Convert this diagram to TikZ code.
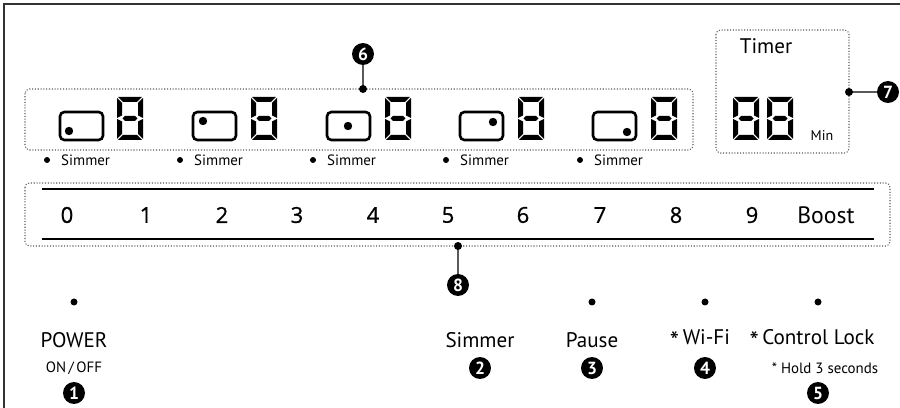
\documentclass[tikz,border=0pt]{standalone}
\usepackage{fontspec}
\setmainfont{PT Sans}
\newfontfamily\numfont{Open Sans}[FakeBold=0.8]
\usetikzlibrary{calc}
\definecolor{framegray}{gray}{0.2}
\definecolor{dotgray}{gray}{0.35}
\newcommand{\bigstar}{{\fontsize{15}{15}\selectfont\raisebox{-0.2em}{*}}}
\tikzset{
	marker/.style={circle, fill=black, text=white, inner sep=0pt, minimum size=12.5pt, font=\bfseries\fontsize{10}{10}\selectfont},
	dotbox/.style={draw=dotgray, densely dotted, line width=0.6pt, rounded corners=2.5pt},
	lead/.style={draw=dotgray, line width=0.6pt},
	small/.style={font=\fontsize{8.5}{8.5}\selectfont},
	label/.style={font=\fontsize{12}{12}\selectfont},
	level/.style={font=\numfont\fontsize{12.5}{12.5}\selectfont}
}
\newcommand{\segdigit}[2]{
	\begin{scope}[shift={(#1,#2)}]
	\fill (1,0) -- (25,0) -- (20,5) -- (6,5) -- cycle;
	\fill (1,43) -- (25,43) -- (20,38) -- (6,38) -- cycle;
	\fill (5.5,21.5) -- (8,19) -- (18,19) -- (20.5,21.5) -- (18,24) -- (8,24) -- cycle;
	\fill (0,1) -- (5,6) -- (5,18.5) -- (0,21) -- cycle;
	\fill (0,22) -- (5,24.5) -- (5,37) -- (0,42) -- cycle;
	\fill (26,1) -- (21,6) -- (21,18.5) -- (26,21) -- cycle;
	\fill (26,22) -- (21,24.5) -- (21,37) -- (26,42) -- cycle;
	\end{scope}
}
\newcommand{\burner}[4]{
	\begin{scope}[shift={(#1,#2)}]
	\draw[line width=1.5pt, rounded corners=2.5pt] (0,0) rectangle (43,28);
	\fill (#3,#4) circle (4.2);
	\end{scope}
}

\begin{document}
\begin{tikzpicture}[x=0.02cm,y=-0.02cm]
	\useasboundingbox (0,0) rectangle (900,408);
	% frame
	\draw[framegray, line width=1.1pt] (900,4) -- (4,4) -- (4,408);

	% cooking zones
	\draw[dotbox] (25,89) rectangle (693,150);
	\burner{60}{112}{9}{19}
	\burner{193}{112}{10}{9}
	\burner{327}{112}{21}{14}
	\burner{460}{112}{33}{10}
	\burner{593}{112}{34}{20}
	\segdigit{117}{97}
	\segdigit{251}{97}
	\segdigit{385}{97}
	\segdigit{518}{97}
	\segdigit{651}{97}

	\fill (47,160) circle (3);
	\fill (180,160) circle (3);
	\fill (313,160) circle (3);
	\fill (446,160) circle (3);
	\fill (580,160) circle (3);
	\node[small, anchor=west] (sim1) at (55,160) {Simmer};
	\node[small, anchor=west] (sim2) at (188,160) {Simmer};
	\node[small, anchor=west] (sim3) at (321,160) {Simmer};
	\node[small, anchor=west] (sim4) at (454,160) {Simmer};
	\node[small, anchor=west] (sim5) at (588,160) {Simmer};

	% timer
	\draw[dotbox] (716,30) rectangle (849,153);
	\node[label] (timer) at (766,46) {Timer};
	\segdigit{733}{97}
	\segdigit{767}{97}
	\node[font=\fontsize{8}{8}\selectfont] (min) at (822,136) {Min};

	% slider
	\draw[dotbox] (25,183) rectangle (890,246);
	\draw[line width=1.6pt] (42,189) -- (874,189);
	\draw[line width=1.6pt] (42,239) -- (874,239);
	\node[level] (l0) at (67,215) {0};
	\node[level] (l1) at (146,215) {1};
	\node[level] (l2) at (222,215) {2};
	\node[level] (l3) at (297,215) {3};
	\node[level] (l4) at (373,215) {4};
	\node[level] (l5) at (448,215) {5};
	\node[level] (l6) at (523,215) {6};
	\node[level] (l7) at (600,215) {7};
	\node[level] (l8) at (676,215) {8};
	\node[level] (l9) at (752,215) {9};
	\node[font=\fontsize{13.5}{13.5}\selectfont] (boost) at (826,215) {Boost};

	% keys
	\fill (74,302) circle (3.5);
	\fill (592,302) circle (3.5);
	\fill (705,302) circle (3.5);
	\fill (818,302) circle (3.5);
	\node[label] (power) at (74,340) {POWER};
	\node[small] (onoff) at (74,368) {ON\,/\,OFF};
	\node[label] (simmer) at (480,340) {Simmer};
	\node[label] (pause) at (592,340) {Pause};
	\node[label] (wifi) at (700,340) {\bigstar\,Wi-Fi};
	\node[label] (lock) at (812,340) {\bigstar\,Control Lock};
	\node[small] (hold) at (825,368) {* Hold 3 seconds};

	% callouts
	\node[marker] (n1) at (74,393) {1};
	\node[marker] (n2) at (480,368) {2};
	\node[marker] (n3) at (592,368) {3};
	\node[marker] (n4) at (705,368) {4};
	\node[marker] (n5) at (818,393) {5};
	\node[marker] (n6) at (363,54) {6};
	\node[marker] (n7) at (888,92) {7};
	\node[marker] (n8) at (458,285) {8};
	\coordinate (d6) at (363,89);
	\coordinate (d7) at (849,92);
	\coordinate (d8) at (458,246);
	\draw[lead] (d6) -- (n6);
	\draw[lead] (d7) -- (n7);
	\draw[lead] (d8) -- (n8);
	\fill (d6) circle (4);
	\fill (d7) circle (4);
	\fill (d8) circle (4);
\end{tikzpicture}
\end{document}
